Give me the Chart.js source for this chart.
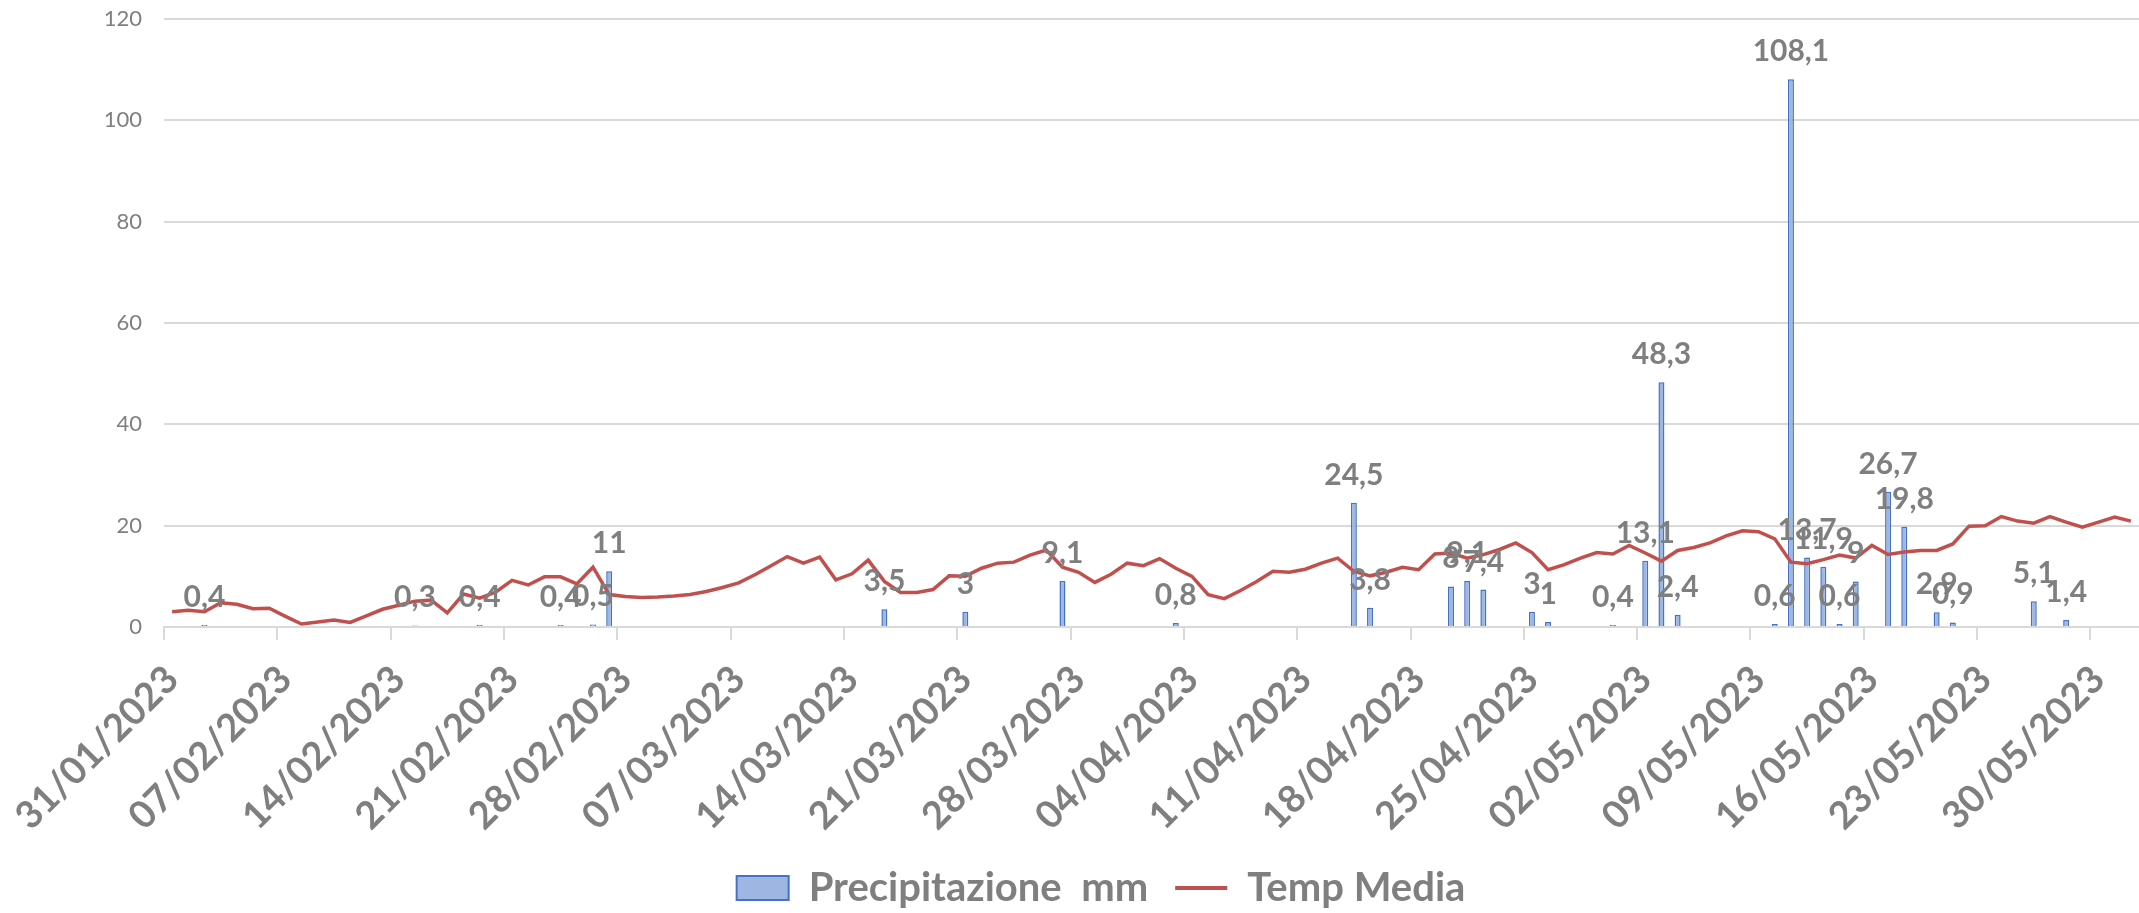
<!DOCTYPE html>
<html>
<head>
<meta charset="utf-8">
<script src="https://cdn.jsdelivr.net/npm/chart.js@4/dist/chart.umd.min.js"></script>
<style>
  html, body { margin: 0; padding: 0; background: #fff; }
  #wrap { width: 2139px; height: 913px; }
</style>
</head>
<body>
<div id="wrap"><canvas id="chart"></canvas></div>
<script>
// giorni dal 31/01/2023 al 01/06/2023
const firstDay = { year: 2023, month: 1, day: 31 };
const dayCount = 122;
const tickEvery = 7;

// giorni di pioggia (mm)
const rainDates = ['02/02/2023', '15/02/2023', '19/02/2023', '24/02/2023', '26/02/2023', '27/02/2023',
  '16/03/2023', '21/03/2023', '27/03/2023', '03/04/2023', '14/04/2023', '15/04/2023',
  '20/04/2023', '21/04/2023', '22/04/2023', '25/04/2023', '26/04/2023', '30/04/2023',
  '02/05/2023', '03/05/2023', '04/05/2023', '10/05/2023', '11/05/2023', '12/05/2023',
  '13/05/2023', '14/05/2023', '15/05/2023', '17/05/2023', '18/05/2023', '20/05/2023',
  '21/05/2023', '26/05/2023', '28/05/2023'];
const rainMm = [0.4, 0.3, 0.4, 0.4, 0.5, 11,
  3.5, 3, 9.1, 0.8, 24.5, 3.8,
  8, 9.1, 7.4, 3, 1, 0.4,
  13.1, 48.3, 2.4, 0.6, 108.1, 13.7,
  11.9, 0.6, 9, 26.7, 19.8, 2.9,
  0.9, 5.1, 1.4];

// temperatura media giornaliera
const tempMedia = [
  3.0, 3.3, 3.0, 4.8, 4.5, 3.6, 3.7, 2.1, 0.6, 1.0, 1.4, 0.9, 2.2, 3.5,
  4.3, 5.1, 5.3, 2.8, 6.5, 5.7, 6.9, 9.2, 8.3, 9.9, 9.9, 8.5, 11.8, 6.4,
  6.0, 5.8, 5.9, 6.1, 6.4, 7.0, 7.8, 8.7, 10.3, 12.1, 13.9, 12.6, 13.8, 9.3,
  10.5, 13.2, 9.0, 6.8, 6.8, 7.4, 10.1, 10.0, 11.6, 12.6, 12.8, 14.2, 15.2, 11.8,
  10.8, 8.8, 10.4, 12.6, 12.1, 13.5, 11.6, 10.0, 6.4, 5.6, 7.2, 9.0, 11.0, 10.8,
  11.4, 12.6, 13.6, 11.0, 10.1, 10.8, 11.8, 11.3, 14.4, 14.6, 13.6, 14.3, 15.3, 16.6,
  14.7, 11.3, 12.3, 13.6, 14.7, 14.4, 16.1, 14.6, 13.0, 15.1, 15.7, 16.6, 18.0, 19.0,
  18.8, 17.4, 12.8, 12.5, 13.3, 14.2, 13.6, 16.1, 14.3, 14.8, 15.1, 15.1, 16.4, 19.9,
  20.0, 21.8, 20.9, 20.5, 21.8, 20.7, 19.7, 20.7, 21.7, 20.9
];

const yMin = 0, yMax = 120, yStep = 20;

const pad = n => String(n).padStart(2, '0');
const labels = [];
for (let i = 0; i < dayCount; i++) {
  const d = new Date(Date.UTC(firstDay.year, firstDay.month - 1, firstDay.day + i));
  labels.push(pad(d.getUTCDate()) + '/' + pad(d.getUTCMonth() + 1) + '/' + d.getUTCFullYear());
}
const rain = labels.map(() => null);
rainDates.forEach((date, i) => { rain[labels.indexOf(date)] = rainMm[i]; });

const grey = '#7f7f7f';
const gridGrey = '#d9d9d9';

// etichette dei valori sopra le barre
const barLabels = {
  id: 'barLabels',
  afterDatasetsDraw(chart) {
    const ctx = chart.ctx;
    const meta = chart.getDatasetMeta(0);
    ctx.save();
    ctx.font = 'bold 30px Lato';
    ctx.fillStyle = grey;
    ctx.textAlign = 'center';
    ctx.textBaseline = 'alphabetic';
    meta.data.forEach((bar, i) => {
      const v = chart.data.datasets[0].data[i];
      if (v == null) return;
      ctx.fillText(String(v).replace('.', ','), bar.x, bar.y - 18);
    });
    ctx.restore();
  }
};

new Chart(document.getElementById('chart'), {
  type: 'bar',
  data: {
    labels: labels,
    datasets: [
      {
        label: 'Precipitazione  mm',
        data: rain,
        backgroundColor: '#9db6e2',
        borderColor: '#4472c4',
        borderWidth: 1.5,
        categoryPercentage: 1,
        barPercentage: 0.37,
        order: 1
      },
      {
        type: 'line',
        label: 'Temp Media',
        data: tempMedia,
        borderColor: '#c0504d',
        backgroundColor: '#c0504d',
        borderWidth: 3.5,
        pointRadius: 0,
        tension: 0,
        order: 0
      }
    ]
  },
  options: {
    responsive: true,
    maintainAspectRatio: false,
    animation: false,
    layout: { padding: { top: 19, right: -5, bottom: -5, left: 58 } },
    plugins: {
      tooltip: { enabled: false },
      legend: {
        position: 'bottom',
        labels: {
          usePointStyle: true,
          pointStyleWidth: 52,
          boxHeight: 24,
          padding: 27,
          color: grey,
          font: { family: 'Lato', size: 40, weight: 'bold' },
          sort: (a, b) => a.datasetIndex - b.datasetIndex,
          generateLabels(chart) {
            const items = Chart.defaults.plugins.legend.labels.generateLabels(chart);
            items.forEach(it => {
              if (it.datasetIndex === 0) {
                it.pointStyle = 'rect';
                it.lineWidth = 2;
              } else {
                it.pointStyle = 'line';
                it.lineWidth = 4;
              }
            });
            return items;
          }
        }
      }
    },
    scales: {
      x: {
        offset: true,
        grid: {
          offset: true,
          drawOnChartArea: false,
          tickLength: 13,
          lineWidth: 2,
          color: c => (c.index % tickEvery === 0 ? gridGrey : 'rgba(0,0,0,0)')
        },
        border: { display: true, color: gridGrey, width: 2 },
        ticks: {
          autoSkip: false,
          maxRotation: 45,
          minRotation: 45,
          padding: 17,
          color: grey,
          font: { family: 'Lato', size: 38, weight: 'bold' },
          callback: (v, i) => (i % tickEvery === 0 ? labels[i] : '')
        },
        afterFit(scale) {
          scale.paddingLeft = 0;
          scale.paddingRight = 0;
          scale.height = 918 - 627 - scale.chart.legend.height;
        }
      },
      y: {
        min: yMin,
        max: yMax,
        ticks: {
          stepSize: yStep,
          padding: 22,
          color: grey,
          font: { family: 'Lato', size: 22 }
        },
        grid: { color: gridGrey, lineWidth: 2, drawTicks: false },
        border: { display: false },
        afterFit(scale) {
          scale.paddingTop = 0;
          scale.paddingBottom = 0;
          scale.width = 106;
        }
      }
    }
  },
  plugins: [barLabels]
});
</script>
</body>
</html>
